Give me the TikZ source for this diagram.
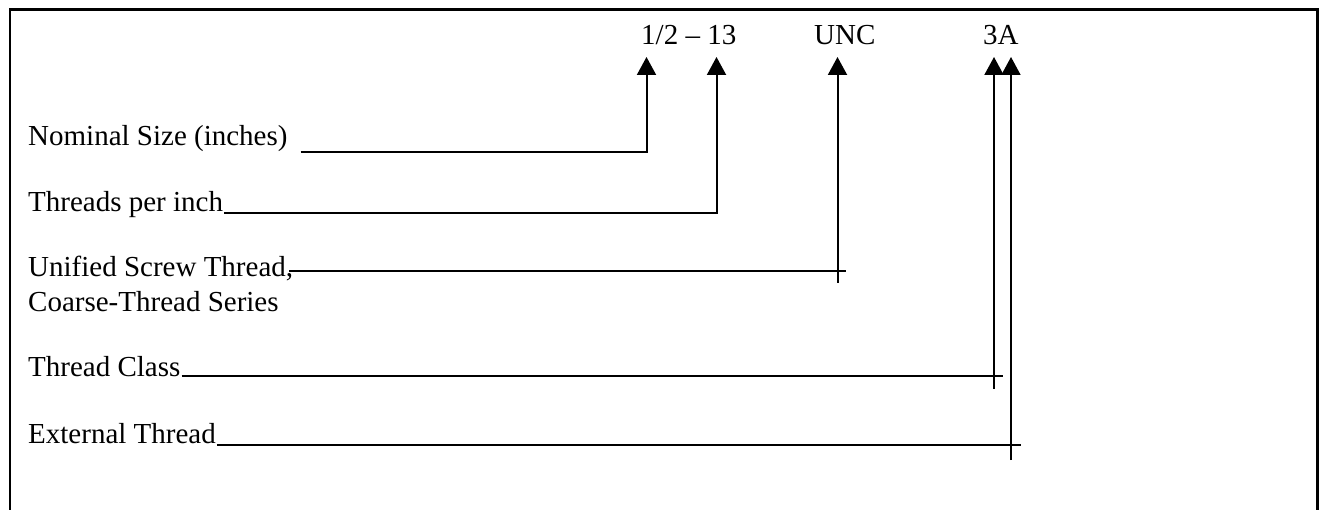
\documentclass[tikz,border=0pt]{standalone}
\usepackage{fontspec}
\setmainfont{Liberation Serif}
\usetikzlibrary{arrows.meta}
\tikzset{
  lbl/.style={anchor=base west, inner sep=0pt, font=\fontsize{29}{35}\selectfont},
  lead/.style={line width=2pt},
  pointer/.style={line width=2pt, -{Triangle[length=18pt,width=19pt]}},
  frame/.style={line width=2.5pt}
}
\begin{document}
\begin{tikzpicture}[x=1pt,y=-1pt]
\useasboundingbox (0,0) rectangle (1320,510);
\draw[frame] (10,512) -- (10,9.5) -- (1317.5,9.5) -- (1317.5,512);

% top labels
\node[lbl] (size) at (641,45) {1/2 -- 13};
\node[lbl] (unc) at (814,45) {UNC};
\node[lbl] (cls) at (983,45) {3A};

% arrow tips
\coordinate (t1) at (646.5,57);
\coordinate (t2) at (716.5,57);
\coordinate (t3) at (837.5,57);
\coordinate (t4) at (994,57);
\coordinate (t5) at (1011,57);

% left labels
\node[lbl] (nom) at (28,146) {Nominal Size (inches)};
\node[lbl] (tpi) at (28,212) {Threads per inch};
\node[lbl] (uni) at (28,277) {Unified Screw Thread,};
\node[lbl] (uni2) at (28,312) {Coarse-Thread Series};
\node[lbl] (tcl) at (28,377) {Thread Class};
\node[lbl] (ext) at (28,443) {External Thread};

% line ends
\coordinate (e3) at (846,271);
\coordinate (b3) at (837.5,283);
\coordinate (e4) at (1003,376);
\coordinate (b4) at (994,389);
\coordinate (e5) at (1021,445);
\coordinate (b5) at (1011,460);

% connectors
\draw[pointer] ([xshift=13pt,yshift=-6pt]nom.base east) -| (t1);
\draw[pointer] ([xshift=1pt,yshift=-1pt]tpi.base east) -| (t2);
\draw[lead] ([xshift=-4pt,yshift=6pt]uni.base east) -- (e3);
\draw[pointer] (b3) -- (t3);
\draw[lead] ([xshift=1pt,yshift=1pt]tcl.base east) -- (e4);
\draw[lead] ([xshift=1pt,yshift=-2pt]ext.base east) -- (e5);
\draw[pointer] (b4) -- (t4);
\draw[pointer, line width=1.6pt] (b5) -- (t5);
\end{tikzpicture}
\end{document}
